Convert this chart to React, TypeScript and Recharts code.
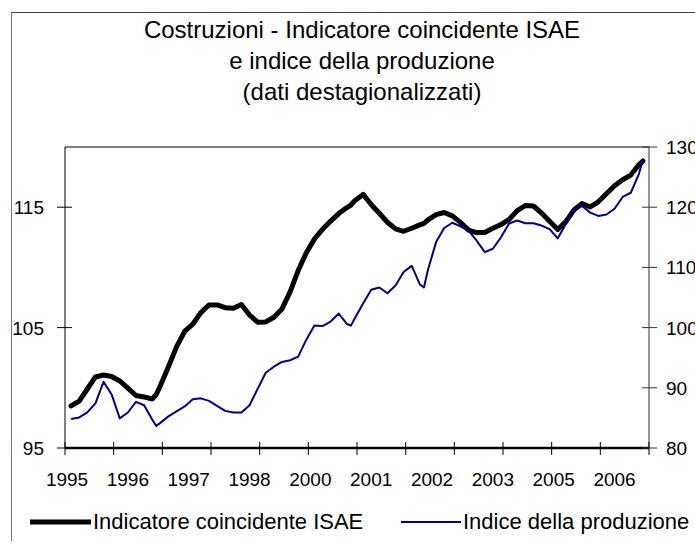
import { LineChart, Line, XAxis, YAxis, ReferenceLine } from 'recharts';

// month index from Jan 1995 (0) to Dec 2006 (143)
const months = [
    1, 3, 5, 7, 9, 11, 13, 15, 17, 19, 21, 22, 23, 25, 27, 29, 31, 33, 35, 37, 39, 41, 43, 45, 47, 49,
    51, 53, 55, 57, 59, 61, 63, 65, 67, 69, 70, 71, 73, 75, 77, 79, 81, 83, 85, 87, 88, 89, 91, 93, 95,
    97, 99, 101, 103, 105, 107, 109, 111, 113, 115, 117, 119, 121, 123, 125, 127, 129, 131, 133, 135,
    137, 139, 141, 142,
];

const isaeValues = [
    98.49, 98.9, 99.9, 100.9, 101.06, 100.94, 100.57, 99.98, 99.36, 99.24, 99.07, 99.44, 100.17, 101.75,
    103.4, 104.68, 105.28, 106.25, 106.88, 106.88, 106.65, 106.6, 106.92, 106.04, 105.45, 105.47, 105.86,
    106.55, 107.97, 109.74, 111.21, 112.36, 113.16, 113.85, 114.47, 114.97, 115.18, 115.56, 116.06, 115.22,
    114.5, 113.75, 113.2, 113.0, 113.25, 113.53, 113.66, 113.94, 114.38, 114.56, 114.28, 113.74, 113.1,
    112.89, 112.9, 113.25, 113.56, 113.98, 114.72, 115.14, 115.1, 114.51, 113.84, 113.15, 113.8, 114.78,
    115.31, 115.02, 115.45, 116.11, 116.79, 117.28, 117.67, 118.52, 118.84,
];

const prodValues = [
    84.8, 85.08, 85.92, 87.42, 91.0, 88.9, 84.92, 85.9, 87.67, 87.1, 84.75, 83.67, 84.17, 85.25, 86.08,
    86.9, 88.08, 88.25, 87.83, 87.0, 86.17, 85.88, 85.88, 87.1, 89.83, 92.5, 93.5, 94.3, 94.58, 95.17,
    98.0, 100.33, 100.25, 101.0, 102.33, 100.6, 100.33, 101.58, 104.0, 106.3, 106.67, 105.7, 107.0,
    109.25, 110.25, 107.17, 106.67, 109.6, 114.2, 116.55, 117.42, 116.8, 116.1, 114.45, 112.53, 113.1,
    115.0, 117.3, 117.8, 117.33, 117.33, 116.95, 116.35, 114.83, 117.2, 119.6, 120.2, 119.1, 118.55,
    118.78, 119.75, 121.7, 122.4, 125.5, 127.9,
];

const yearTicks = [-0.5, 11.5, 23.5, 35.5, 47.5, 59.5, 71.5, 83.5, 95.5, 107.5, 119.5, 131.5, 143.5];
const labelMonths = [0, 15, 30, 45, 60, 75, 90, 105, 120, 135];
const xLabels = ['1995', '1996', '1997', '1998', '2000', '2001', '2002', '2003', '2005', '2006'];

const leftTicks = [95, 105, 115];
const rightTicks = [80, 90, 100, 110, 120, 130];

const rows = months.map((m, i) => ({ month: m, isae: isaeValues[i], prod: prodValues[i] }));

const FONT = '"Liberation Sans", Arial, sans-serif';

const XTick = (props: any) => {
    const { x, y, payload } = props;
    const idx = labelMonths.indexOf(payload.value);
    if (idx >= 0) {
        return (
            <text x={x} y={y + 38} textAnchor="middle" fontSize={19} fontFamily={FONT} fill="#000">
                {xLabels[idx]}
            </text>
        );
    }
    return <line x1={x} x2={x} y1={y - 6} y2={y + 7} stroke="#000" strokeWidth={1} />;
};

const LeftTick = (props: any) => {
    const { x, y, payload } = props;
    return (
        <g>
            <line x1={x - 8} x2={x + 7} y1={y} y2={y} stroke="#000" strokeWidth={1} />
            <text x={x - 21} y={y + 7} textAnchor="end" fontSize={19} fontFamily={FONT} fill="#000">
                {payload.value}
            </text>
        </g>
    );
};

const RightTick = (props: any) => {
    const { x, y, payload } = props;
    return (
        <g>
            <line x1={x - 7} x2={x + 8} y1={y} y2={y} stroke="#333" strokeWidth={1} />
            <text x={x + 17} y={y + 7} textAnchor="start" fontSize={19} fontFamily={FONT} fill="#000">
                {payload.value}
            </text>
        </g>
    );
};

const App = () => {
    return (
        <div style={{ position: 'absolute', left: 0, top: 0, width: 695, height: 548, background: '#fff', overflow: 'hidden' }}>
            {/* outer frame (only top and left edges visible) */}
            <div style={{ position: 'absolute', left: 11, top: 12, width: 700, height: 528, borderTop: '1px solid #444', borderLeft: '1px solid #777' }} />
            <div
                style={{
                    position: 'absolute',
                    left: 62,
                    top: 14,
                    width: 600,
                    textAlign: 'center',
                    fontFamily: FONT,
                    fontSize: 24,
                    lineHeight: '31px',
                    color: '#000',
                }}
            >
                <div>Costruzioni - Indicatore coincidente ISAE</div>
                <div>e indice della produzione</div>
                <div>(dati destagionalizzati)</div>
            </div>
            <div style={{ position: 'absolute', left: 0, top: 0 }}>
                <LineChart width={695} height={548} data={rows} margin={{ top: 147, right: 0, bottom: 60, left: 0 }}>
                    <XAxis
                        type="number"
                        dataKey="month"
                        domain={[-0.5, 143.5]}
                        ticks={[...yearTicks, ...labelMonths]}
                        interval={0}
                        tickSize={0}
                        tickMargin={0}
                        tickLine={false}
                        axisLine={{ stroke: '#000', strokeWidth: 2.5 }}
                        tick={<XTick />}
                        height={40}
                        allowDataOverflow
                    />
                    <YAxis
                        yAxisId="left"
                        domain={[95, 120]}
                        ticks={leftTicks}
                        interval={0}
                        width={65}
                        tickSize={0}
                        tickMargin={0}
                        tickLine={false}
                        axisLine={{ stroke: '#000' }}
                        tick={<LeftTick />}
                        allowDataOverflow
                    />
                    <YAxis
                        yAxisId="right"
                        orientation="right"
                        domain={[80, 130]}
                        ticks={rightTicks}
                        interval={0}
                        width={46}
                        tickSize={0}
                        tickMargin={0}
                        tickLine={false}
                        axisLine={{ stroke: '#333' }}
                        tick={<RightTick />}
                        allowDataOverflow
                    />
                    <ReferenceLine yAxisId="left" y={120} stroke="#000" strokeWidth={1} />
                    <Line
                        yAxisId="left"
                        type="linear"
                        dataKey="isae"
                        stroke="#000"
                        strokeWidth={5}
                        strokeLinejoin="round"
                        strokeLinecap="round"
                        dot={false}
                        isAnimationActive={false}
                    />
                    <Line
                        yAxisId="right"
                        type="linear"
                        dataKey="prod"
                        stroke="#000080"
                        strokeWidth={2}
                        strokeLinejoin="round"
                        dot={false}
                        isAnimationActive={false}
                    />
                </LineChart>
            </div>
            <svg style={{ position: 'absolute', left: 0, top: 500 }} width={695} height={48}>
                <line x1={30} x2={91} y1={22} y2={22} stroke="#000" strokeWidth={5} />
                <text x={93} y={29} fontSize={22} fontFamily={FONT} fill="#000">Indicatore coincidente ISAE</text>
                <line x1={401} x2={461} y1={22} y2={22} stroke="#000080" strokeWidth={2} />
                <text x={463} y={29} fontSize={22} fontFamily={FONT} fill="#000">Indice della produzione</text>
            </svg>
        </div>
    );
};

export default App;
